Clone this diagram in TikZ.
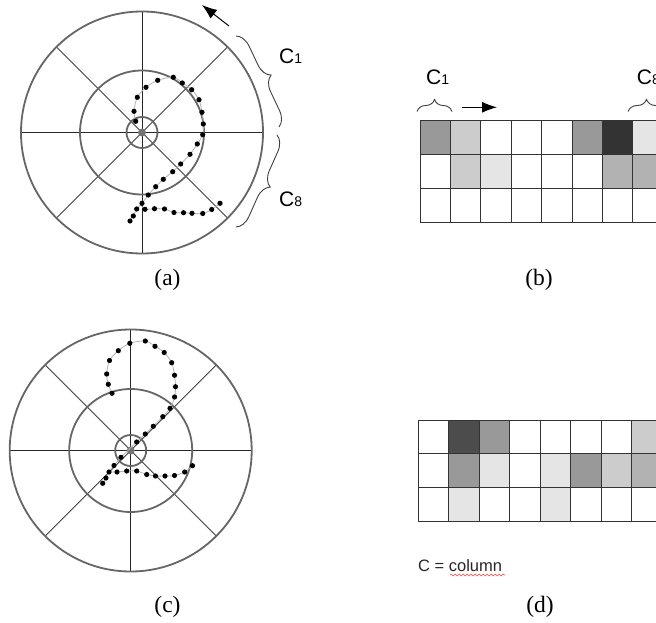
\documentclass[tikz,border=0pt]{standalone}
\usepackage{fontspec}
\setmainfont{Liberation Serif}
\newfontfamily\arialf{Liberation Sans}
\usetikzlibrary{arrows.meta,decorations.pathreplacing,decorations.pathmorphing}
\begin{document}
\begin{tikzpicture}[x=1pt,y=-1pt,
 ring/.style={draw=black!60,line width=1.8pt},
 axis/.style={draw=black!85,line width=0.9pt},
 diag/.style={draw=black!75,line width=0.8pt},
 stroke/.style={draw=black!30,line width=0.8pt},
 cell/.style={draw=black!80,line width=1pt},
 brc/.style={draw=black!75,line width=0.9pt,decorate,decoration={brace,amplitude=#1}},
 lab/.style={font=\arialf\fontsize{21}{25}\selectfont,inner sep=0pt,anchor=base west},
 captxt/.style={font=\fontsize{23.5}{28}\selectfont,inner sep=0pt},
 arr/.style={draw=black,line width=1pt,-{Latex[length=15pt,width=11pt]}},
]
\useasboundingbox (0,0) rectangle (656,623);
\clip (0,0) rectangle (656,623);

% ---------- panel (a) ----------
\begin{scope}[shift={(142,132.5)}]
  \draw[diag] (45:121) -- (225:121);
  \draw[diag] (135:121) -- (315:121);
  \draw[axis] (-121,0) -- (121,0);
  \draw[axis] (0,-121) -- (0,121);
  \draw[ring] (0,0) circle (121);
  \draw[ring] (0,0) circle (62);
  \draw[ring] (0,0) circle (15.5);
  \fill[black!55] (0,0) circle (4);
\end{scope}
\draw[stroke] plot[smooth] coordinates {(135.7,121.3) (134,111.3) (137.3,97.3) (146,87.3) (157.7,80.3) (173.3,77.3) (182.3,83) (191.7,89.7) (199,99.7) (202,112.3) (203.3,124) (202.7,134.7) (197.3,144) (190,154.3) (180.7,164) (172.7,171.7) (163.3,179.3) (155.7,186.7) (148.3,195) (142,203.3) (136.7,209) (133.3,216) (130,221)};
\draw[stroke] plot[smooth] coordinates {(141,205) (145,209.3) (154.5,208.7) (164.5,209) (174,212.5) (183.5,212.7) (192,213.3) (202.7,213.5) (211.7,209.5) (220,203.3)};
\foreach \p in {(135.7,121.3),(134,111.3),(137.3,97.3),(146,87.3),(157.7,80.3),(173.3,77.3),(182.3,83),(191.7,89.7),(199,99.7),(202,112.3),(203.3,124),(202.7,134.7),(197.3,144),(190,154.3),(180.7,164),(172.7,171.7),(163.3,179.3),(155.7,186.7),(148.3,195),(142,203.3),(136.7,209),(133.3,216),(130,221),(145,209.3),(154.5,208.7),(164.5,209),(174,212.5),(183.5,212.7),(192,213.3),(202.7,213.5),(211.7,209.5),(220,203.3)}
  \fill[black] \p circle (2.6);

\coordinate (aArrS) at (229,26);
\coordinate (aArrE) at (202,5);
\draw[arr] (aArrS) -- (aArrE);
\coordinate (b1s) at (236,36);
\coordinate (b1e) at (279,127);
\draw[brc=15] (b1s) -- (b1e);
\coordinate (b8s) at (277,135);
\coordinate (b8e) at (236,227);
\draw[brc=15] (b8s) -- (b8e);
\node[lab] (aC1) at (279,64) {C{\fontsize{14}{16}\selectfont 1}};
\node[lab] (aC8) at (279,206) {C{\fontsize{14}{16}\selectfont 8}};
\node[captxt] (capa) at (167.5,280.3) {(a)};

% ---------- panel (b) ----------
\foreach \c/\r/\g in {0/0/40,1/0/20,5/0/40,6/0/80,7/0/10,1/1/20,2/1/10,6/1/30,7/1/30}
  \fill[black!\g] (420+\c*30.4,120.7+\r*33.9) rectangle ++(30.4,33.9);
\foreach \c in {0,...,7}
  \foreach \r in {0,1,2}
    \draw[cell] (420+\c*30.4,120.7+\r*33.9) rectangle ++(30.4,33.9);
\node[lab] (bC1) at (426,85) {C{\fontsize{14}{16}\selectfont 1}};
\node[lab] (bC8) at (636.7,85) {C{\fontsize{14}{16}\selectfont 8}};
\coordinate (bb1s) at (417,111.5);
\coordinate (bb1e) at (452,111.5);
\draw[brc=12] (bb1s) -- (bb1e);
\coordinate (bb8s) at (628,111.5);
\coordinate (bb8e) at (665,111.5);
\draw[brc=12] (bb8s) -- (bb8e);
\coordinate (bArrS) at (462,107.3);
\coordinate (bArrE) at (497,107.3);
\draw[arr] (bArrS) -- (bArrE);
\node[captxt] (capb) at (539,280.3) {(b)};

% ---------- panel (c) ----------
\begin{scope}[shift={(130.7,450.5)}]
  \draw[diag] (45:121) -- (225:121);
  \draw[diag] (135:121) -- (315:121);
  \draw[axis] (-121,0) -- (121,0);
  \draw[axis] (0,-121) -- (0,121);
  \draw[ring] (0,0) circle (121);
  \draw[ring] (0,0) circle (61.5);
  \draw[ring] (0,0) circle (15.5);
  \fill[black!55] (0,0) circle (4);
\end{scope}
\draw[stroke] plot[smooth] coordinates {(112,393.3) (108.3,384.3) (106.7,374) (109.5,360.5) (118.3,350.7) (129.8,343.3) (145.3,341) (155,346.3) (164.2,352.5) (171.7,362.7) (174.5,375.3) (175.5,386.7) (174.6,397) (170,408.3) (162.8,416.7) (153.3,426.3) (145.3,434) (136.7,442) (121,457.3) (114,465.5) (109,472) (106,478) (102.7,483.3)};
\draw[stroke] plot[smooth] coordinates {(111,472) (117,472) (126.7,471) (136.7,471) (146.7,474.5) (155.5,476) (165,476) (174.5,475.5) (184.7,472) (192.5,465.7)};
\foreach \p in {(112,393.3),(108.3,384.3),(106.7,374),(109.5,360.5),(118.3,350.7),(129.8,343.3),(145.3,341),(155,346.3),(164.2,352.5),(171.7,362.7),(174.5,375.3),(175.5,386.7),(174.6,397),(170,408.3),(162.8,416.7),(153.3,426.3),(145.3,434),(136.7,442),(121,457.3),(114,465.5),(109,472),(106,478),(102.7,483.3),(117,472),(126.7,471),(136.7,471),(146.7,474.5),(155.5,476),(165,476),(174.5,475.5),(184.7,472),(192.5,465.7)}
  \fill[black] \p circle (2.6);
\node[captxt] (capc) at (167.5,607) {(c)};

% ---------- panel (d) ----------
\foreach \c/\r/\g in {1/0/70,2/0/40,7/0/20,1/1/40,2/1/10,4/1/10,5/1/40,6/1/20,7/1/30,1/2/10,4/2/10}
  \fill[black!\g] (418.3+\c*30.5,420+\r*33.9) rectangle ++(30.5,33.9);
\foreach \c in {0,...,7}
  \foreach \r in {0,1,2}
    \draw[cell] (418.3+\c*30.5,420+\r*33.9) rectangle ++(30.5,33.9);
\node[font=\arialf\fontsize{16.5}{19}\selectfont,anchor=base west,inner sep=0pt,text=black!85] (legend) at (418,571.7) {C = column};
\coordinate (sqS) at (450,575);
\coordinate (sqE) at (505,575);
\draw[red!75,line width=0.6pt,decorate,decoration={snake,amplitude=0.9pt,segment length=4pt}] (sqS) -- (sqE);
\node[captxt] (capd) at (540,607) {(d)};
\end{tikzpicture}
\end{document}
